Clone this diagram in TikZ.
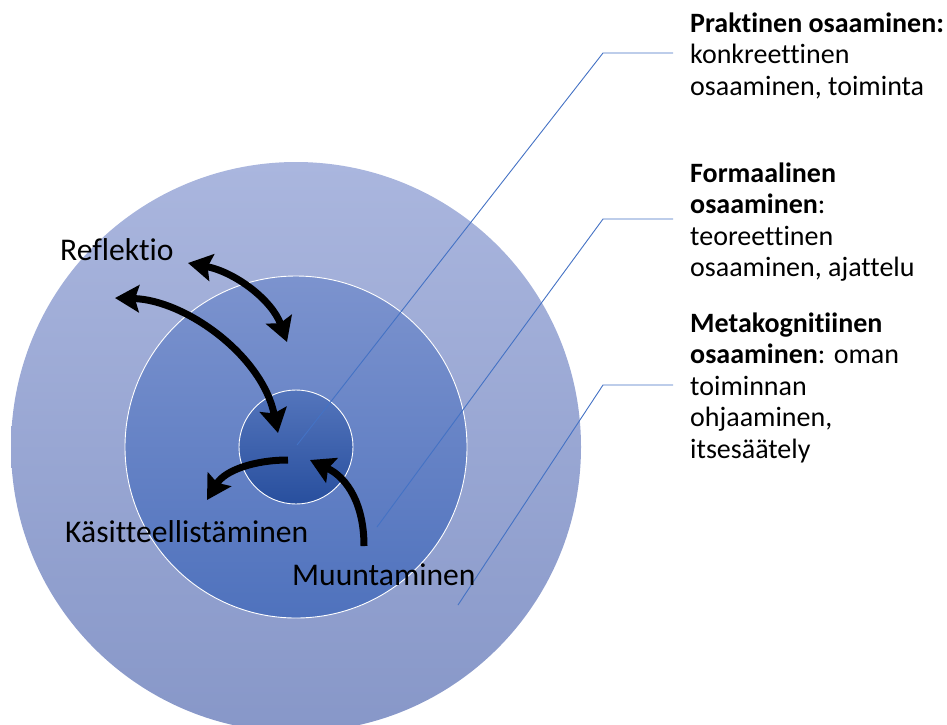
\documentclass[tikz,border=0pt]{standalone}
\usepackage{fontspec}
\setmainfont{Carlito}[Ligatures=NoCommon]
\usetikzlibrary{arrows.meta}
\definecolor{outerTop}{HTML}{AAB6DE}
\definecolor{outerBot}{HTML}{8797C8}
\definecolor{midTop}{HTML}{7C93CE}
\definecolor{midBot}{HTML}{4F72BD}
\definecolor{inTop}{HTML}{5475BC}
\definecolor{inMid}{HTML}{3461B4}
\definecolor{inBot}{HTML}{284F9E}
\definecolor{leaderblue}{HTML}{4472C4}
\begin{document}
\begin{tikzpicture}[x=1pt,y=-1pt,
  ring/.style={draw=white, line width=0.9pt},
  leader/.style={draw=leaderblue, line width=0.9pt},
  bigarrow/.style={line width=7pt, draw=black},
  headtip/.style={-{Stealth[length=24pt,width=27pt,inset=4pt]}},
  bothtips/.style={{Stealth[length=24pt,width=27pt,inset=4pt]}-{Stealth[length=24pt,width=27pt,inset=4pt]}},
  info/.style={anchor=base west, inner sep=0pt, font=\fontsize{28}{31.5}\selectfont},
  lbl/.style={anchor=base west, inner sep=0pt, font=\fontsize{31.6}{36}\selectfont}]
\useasboundingbox (0,0) rectangle (947,724);
\clip (0,0) rectangle (947,724);
% circles
\coordinate (c) at (296,447);
\shade[top color=outerTop,bottom color=outerBot] (c) circle[radius=285];
\shade[top color=midTop,bottom color=midBot] (c) circle[radius=171];
\draw[ring] (c) circle[radius=171];
\shade[top color=inTop,middle color=inMid,bottom color=inBot] (c) circle[radius=57];
\draw[ring] (c) circle[radius=57];
% right texts
\node[info] (t1) at (690,32) {\vtop{\hbox{\textbf{Praktinen osaaminen:}}\hbox{konkreettinen}\hbox{osaaminen, toiminta}}};
\node[info] (t2) at (690,182) {\vtop{\hbox{\textbf{Formaalinen}}\hbox{\textbf{osaaminen}:}\hbox{teoreettinen}\hbox{osaaminen, ajattelu}}};
\node[info] (t3) at (690,332) {\vtop{\hbox{\textbf{Metakognitiinen}}\hbox{\textbf{osaaminen}: oman}\hbox{toiminnan}\hbox{ohjaaminen,}\hbox{itsesäätely}}};
% leader lines
\coordinate (p1s) at (297,445);
\coordinate (p1k) at (603,53);
\coordinate (p1e) at (673,53);
\coordinate (p2s) at (377,527);
\coordinate (p2k) at (603,219);
\coordinate (p2e) at (673,219);
\coordinate (p3s) at (458,605);
\coordinate (p3k) at (603,385);
\coordinate (p3e) at (673,385);
\draw[leader] (p1s) -- (p1k) -- (p1e);
\draw[leader] (p2s) -- (p2k) -- (p2e);
\draw[leader] (p3s) -- (p3k) -- (p3e);
% labels
\node[lbl] (refl) at (60,260) {Reflektio};
\node[lbl] (kasi) at (65,542) {Käsitteellistäminen};
\node[lbl] (muun) at (292,585) {Muuntaminen};
% arrows
\coordinate (a1) at (188,263);
\coordinate (a2) at (287,342);
\coordinate (b1) at (115,298);
\coordinate (b2) at (278,433);
\coordinate (c1) at (288,460);
\coordinate (c2) at (207,500);
\coordinate (d1) at (364,546);
\coordinate (d2) at (310,460);
\draw[bigarrow,bothtips] (a1) .. controls (235,272) and (272,300) .. (a2);
\draw[bigarrow,bothtips] (b1) .. controls (185,300) and (262,355) .. (b2);
\draw[bigarrow,headtip] (c1) .. controls (255,460) and (225,470) .. (c2);
\draw[bigarrow,headtip] (d1) .. controls (364,505) and (348,478) .. (d2);
\end{tikzpicture}
\end{document}
